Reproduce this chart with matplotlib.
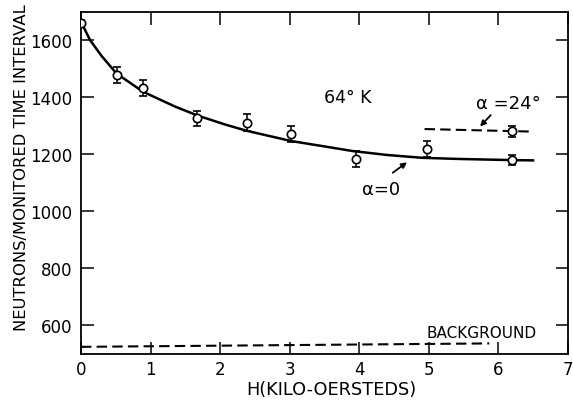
import matplotlib.pyplot as plt

# measured points (alpha = 0)
h_pts = [0.0, 0.52, 0.89, 1.67, 2.38, 3.02, 3.95, 4.97, 6.19]
n_pts = [1660, 1478, 1434, 1326, 1311, 1270, 1184, 1218, 1180]
n_err = [10, 28, 28, 28, 29, 28, 28, 28, 18]

# measured point (alpha = 24 deg)
h_24 = [6.19]
n_24 = [1281]
err_24 = [20]

# smooth curve (alpha = 0)
h_curve = [0.0, 0.13, 0.3, 0.51, 0.89, 1.35, 1.68, 2.07, 2.38, 3.02,
           3.5, 3.9, 4.4, 4.91, 5.44, 6.2, 6.5]
n_curve = [1665, 1601, 1544, 1484, 1420, 1368, 1336, 1305, 1283, 1247,
           1228, 1212, 1198, 1188, 1184, 1180, 1179]

# dashed lines
h_24_line = [4.94, 6.49]
n_24_line = [1289, 1280]
h_bg = [0.0, 5.87]
n_bg = [525, 537]

fig = plt.figure(figsize=(5.73, 4.02), dpi=100)
ax = fig.add_axes([0.1414, 0.117, 0.8496, 0.851])

ax.plot(h_curve, n_curve, color='black', lw=1.8, zorder=3)
ax.plot(h_24_line, n_24_line, color='black', lw=1.5, dashes=(5, 2.5), zorder=3)
ax.plot(h_bg, n_bg, color='black', lw=1.5, dashes=(5, 2.5), zorder=3)

ax.errorbar(h_pts, n_pts, yerr=n_err, fmt='o', mfc='white', mec='black', mew=1.2,
            ms=6, ecolor='black', elinewidth=1.1, capsize=3, capthick=1.1, zorder=4)
ax.errorbar(h_24, n_24, yerr=err_24, fmt='o', mfc='white', mec='black', mew=1.2,
            ms=6, ecolor='black', elinewidth=1.1, capsize=3, capthick=1.1, zorder=4)

ax.set_xlim(0, 7)
ax.set_ylim(500, 1700)
ax.set_xticks(range(0, 8))
ax.set_yticks([600, 800, 1000, 1200, 1400, 1600])
ax.tick_params(direction='in', length=9, width=1.1, top=True, right=True,
               labelsize=12)
ax.tick_params(axis='x', pad=4)
ax.tick_params(axis='y', pad=6)
for s in ax.spines.values():
    s.set_linewidth(1.3)

ax.set_xlabel('H(KILO-OERSTEDS)', fontsize=12.8)
ax.set_ylabel('NEUTRONS/MONITORED TIME INTERVAL', fontsize=11.8)
ax.xaxis.set_label_coords(0.515, -0.077)
ax.yaxis.set_label_coords(-0.107, 0.547)

ax.text(3.83, 1403, '64° K', fontsize=12.5, ha='center', va='center')
ax.text(4.31, 1077, 'α=0', fontsize=13, ha='center', va='center')
ax.annotate('', xy=(4.72, 1178), xytext=(4.45, 1130),
            arrowprops=dict(arrowstyle='-|>', color='black', lw=1.3, mutation_scale=8))
ax.text(6.15, 1382, 'α =24°', fontsize=13, ha='center', va='center')
ax.annotate('', xy=(5.71, 1291), xytext=(5.92, 1345),
            arrowprops=dict(arrowstyle='-|>', color='black', lw=1.3, mutation_scale=8))
ax.text(5.76, 575, 'BACKGROUND', fontsize=11, ha='center', va='center')

fig.savefig('out.png', dpi=100)
